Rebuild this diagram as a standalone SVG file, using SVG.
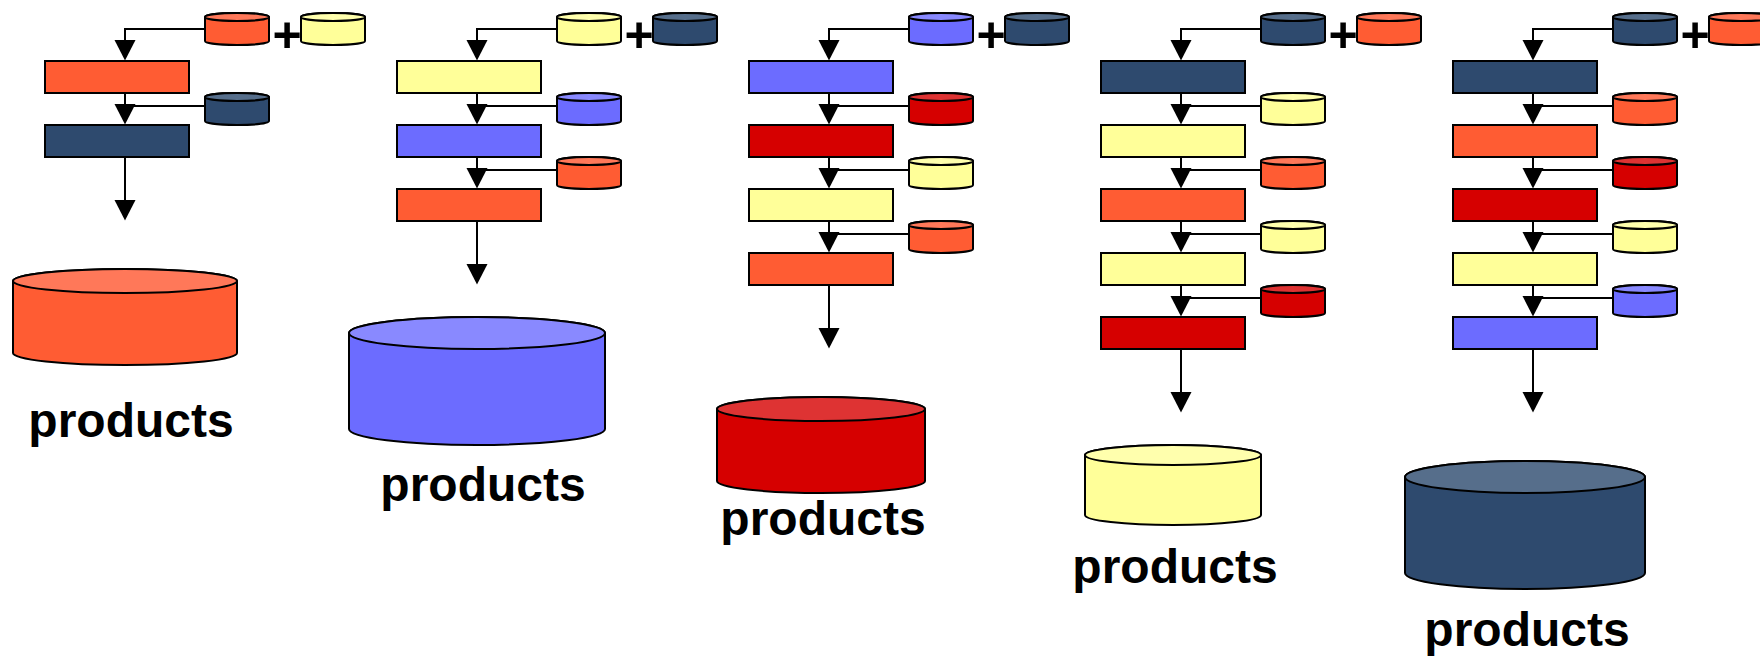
<svg xmlns="http://www.w3.org/2000/svg" width="1760" height="658" viewBox="0 0 1760 658">
<style>
text{font-family:"Liberation Sans",Arial,sans-serif;font-weight:bold;font-size:48px;fill:#000;text-anchor:middle}
.p{font-size:50px}
.b{stroke:#000;stroke-width:2}
.o{fill:#FF5C33}.y{fill:#FFFF99}.n{fill:#2E4A6E}.u{fill:#6C6CFF}.r{fill:#D60000}
.ot{fill:#FF7859}.yt{fill:#FFFFAD}.nt{fill:#566E8B}.ut{fill:#8989FF}.rt{fill:#DE3333}
.c{fill:none;stroke:#000;stroke-width:2}
.a{marker-end:url(#head)}
</style>
<defs>
<marker id="head" markerUnits="userSpaceOnUse" markerWidth="24" markerHeight="24" viewBox="0 -12 24 24" refX="0" refY="0" orient="auto"><path d="M0 -10.5L20.5 0L0 10.5Z" fill="#000"/></marker>
<path id="sb" d="M0 4A32 4 0 0 1 64 4V28A32 4 0 0 1 0 28Z"/>
<ellipse id="st" cx="32" cy="4" rx="32" ry="4"/>
<g id="so"><use href="#sb" class="b o"/><use href="#st" class="b ot"/></g>
<g id="sy"><use href="#sb" class="b y"/><use href="#st" class="b yt"/></g>
<g id="sn"><use href="#sb" class="b n"/><use href="#st" class="b nt"/></g>
<g id="su"><use href="#sb" class="b u"/><use href="#st" class="b ut"/></g>
<g id="sr"><use href="#sb" class="b r"/><use href="#st" class="b rt"/></g>
</defs>

<g id="connectors">
<g id="conn-col1"><path class="c a" d="M205 29H125V40"/><path class="c a" d="M125 93V104"/><path class="c" d="M205 106H125"/><path class="c a" d="M125 157V200"/></g>
<g id="conn-col2" transform="translate(352 0)"><path class="c a" d="M205 29H125V40"/><path class="c a" d="M125 93V104"/><path class="c" d="M205 106H125"/><path class="c a" d="M125 157V168"/><path class="c" d="M205 170H125"/><path class="c a" d="M125 221V264"/></g>
<g id="conn-col3" transform="translate(704 0)"><path class="c a" d="M205 29H125V40"/><path class="c a" d="M125 93V104"/><path class="c" d="M205 106H125"/><path class="c a" d="M125 157V168"/><path class="c" d="M205 170H125"/><path class="c a" d="M125 221V232"/><path class="c" d="M205 234H125"/><path class="c a" d="M125 285V328"/></g>
<g id="conn-col4" transform="translate(1056 0)"><path class="c a" d="M205 29H125V40"/><path class="c a" d="M125 93V104"/><path class="c" d="M205 106H125"/><path class="c a" d="M125 157V168"/><path class="c" d="M205 170H125"/><path class="c a" d="M125 221V232"/><path class="c" d="M205 234H125"/><path class="c a" d="M125 285V296"/><path class="c" d="M205 298H125"/><path class="c a" d="M125 349V392"/></g>
<g id="conn-col5" transform="translate(1408 0)"><path class="c a" d="M205 29H125V40"/><path class="c a" d="M125 93V104"/><path class="c" d="M205 106H125"/><path class="c a" d="M125 157V168"/><path class="c" d="M205 170H125"/><path class="c a" d="M125 221V232"/><path class="c" d="M205 234H125"/><path class="c a" d="M125 285V296"/><path class="c" d="M205 298H125"/><path class="c a" d="M125 349V392"/></g>
</g>

<g id="column1">
<g id="c1-src1"><use href="#so" x="205" y="13"/></g>
<g id="c1-plus"><text class="p" x="287" y="52">+</text></g>
<g id="c1-src2"><use href="#sy" x="301" y="13"/></g>
<g id="c1-step1"><rect class="b o" x="45" y="61" width="144" height="32"/></g>
<g id="c1-side1"><use href="#sn" x="205" y="93"/></g>
<g id="c1-step2"><rect class="b n" x="45" y="125" width="144" height="32"/></g>
</g>

<g id="column2" transform="translate(352 0)">
<g id="c2-src1"><use href="#sy" x="205" y="13"/></g>
<g id="c2-plus"><text class="p" x="287" y="52">+</text></g>
<g id="c2-src2"><use href="#sn" x="301" y="13"/></g>
<g id="c2-step1"><rect class="b y" x="45" y="61" width="144" height="32"/></g>
<g id="c2-side1"><use href="#su" x="205" y="93"/></g>
<g id="c2-step2"><rect class="b u" x="45" y="125" width="144" height="32"/></g>
<g id="c2-side2"><use href="#so" x="205" y="157"/></g>
<g id="c2-step3"><rect class="b o" x="45" y="189" width="144" height="32"/></g>
</g>

<g id="column3" transform="translate(704 0)">
<g id="c3-src1"><use href="#su" x="205" y="13"/></g>
<g id="c3-plus"><text class="p" x="287" y="52">+</text></g>
<g id="c3-src2"><use href="#sn" x="301" y="13"/></g>
<g id="c3-step1"><rect class="b u" x="45" y="61" width="144" height="32"/></g>
<g id="c3-side1"><use href="#sr" x="205" y="93"/></g>
<g id="c3-step2"><rect class="b r" x="45" y="125" width="144" height="32"/></g>
<g id="c3-side2"><use href="#sy" x="205" y="157"/></g>
<g id="c3-step3"><rect class="b y" x="45" y="189" width="144" height="32"/></g>
<g id="c3-side3"><use href="#so" x="205" y="221"/></g>
<g id="c3-step4"><rect class="b o" x="45" y="253" width="144" height="32"/></g>
</g>

<g id="column4" transform="translate(1056 0)">
<g id="c4-src1"><use href="#sn" x="205" y="13"/></g>
<g id="c4-plus"><text class="p" x="287" y="52">+</text></g>
<g id="c4-src2"><use href="#so" x="301" y="13"/></g>
<g id="c4-step1"><rect class="b n" x="45" y="61" width="144" height="32"/></g>
<g id="c4-side1"><use href="#sy" x="205" y="93"/></g>
<g id="c4-step2"><rect class="b y" x="45" y="125" width="144" height="32"/></g>
<g id="c4-side2"><use href="#so" x="205" y="157"/></g>
<g id="c4-step3"><rect class="b o" x="45" y="189" width="144" height="32"/></g>
<g id="c4-side3"><use href="#sy" x="205" y="221"/></g>
<g id="c4-step4"><rect class="b y" x="45" y="253" width="144" height="32"/></g>
<g id="c4-side4"><use href="#sr" x="205" y="285"/></g>
<g id="c4-step5"><rect class="b r" x="45" y="317" width="144" height="32"/></g>
</g>

<g id="column5" transform="translate(1408 0)">
<g id="c5-src1"><use href="#sn" x="205" y="13"/></g>
<g id="c5-plus"><text class="p" x="287" y="52">+</text></g>
<g id="c5-src2"><use href="#so" x="301" y="13"/></g>
<g id="c5-step1"><rect class="b n" x="45" y="61" width="144" height="32"/></g>
<g id="c5-side1"><use href="#so" x="205" y="93"/></g>
<g id="c5-step2"><rect class="b o" x="45" y="125" width="144" height="32"/></g>
<g id="c5-side2"><use href="#sr" x="205" y="157"/></g>
<g id="c5-step3"><rect class="b r" x="45" y="189" width="144" height="32"/></g>
<g id="c5-side3"><use href="#sy" x="205" y="221"/></g>
<g id="c5-step4"><rect class="b y" x="45" y="253" width="144" height="32"/></g>
<g id="c5-side4"><use href="#su" x="205" y="285"/></g>
<g id="c5-step5"><rect class="b u" x="45" y="317" width="144" height="32"/></g>
</g>

<g id="products1">
<path class="b o" d="M13 281A112 12 0 0 1 237 281V353A112 12 0 0 1 13 353Z"/>
<ellipse class="b ot" cx="125" cy="281" rx="112" ry="12"/>
<text x="131" y="437">products</text>
</g>
<g id="products2">
<path class="b u" d="M349 333A128 16 0 0 1 605 333V429A128 16 0 0 1 349 429Z"/>
<ellipse class="b ut" cx="477" cy="333" rx="128" ry="16"/>
<text x="483" y="501">products</text>
</g>
<g id="products3">
<path class="b r" d="M717 409A104 12 0 0 1 925 409V481A104 12 0 0 1 717 481Z"/>
<ellipse class="b rt" cx="821" cy="409" rx="104" ry="12"/>
<text x="823" y="535">products</text>
</g>
<g id="products4">
<path class="b y" d="M1085 455A88 10 0 0 1 1261 455V515A88 10 0 0 1 1085 515Z"/>
<ellipse class="b yt" cx="1173" cy="455" rx="88" ry="10"/>
<text x="1175" y="583">products</text>
</g>
<g id="products5">
<path class="b n" d="M1405 477A120 16 0 0 1 1645 477V573A120 16 0 0 1 1405 573Z"/>
<ellipse class="b nt" cx="1525" cy="477" rx="120" ry="16"/>
<text x="1527" y="646">products</text>
</g>
</svg>
